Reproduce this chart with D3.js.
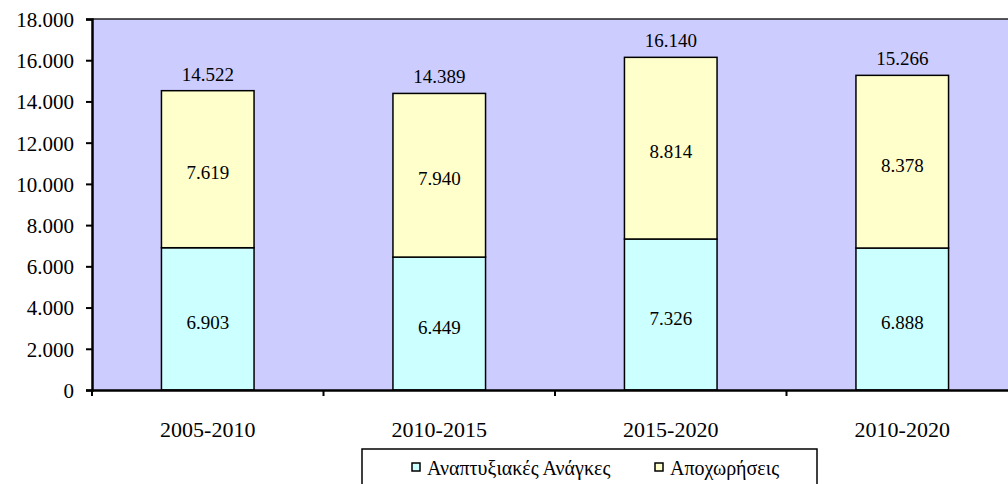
<!DOCTYPE html>
<html>
<head>
<meta charset="utf-8">
<script src="https://cdn.jsdelivr.net/npm/d3@7"></script>
<style>
    body { margin: 0; background: #fff; }
    svg { display: block; }
    svg text { font-family: "Liberation Serif", "Times New Roman", "DejaVu Serif", serif; fill: #000; }
</style>
</head>
<body>
<div id="chart"></div>
<script>
// Data
const periods = ["2005-2010", "2010-2015", "2015-2020", "2010-2020"];
const devNeeds = [6903, 6449, 7326, 6888];
const retirements = [7619, 7940, 8814, 8378];
const seriesNames = ["Αναπτυξιακές Ανάγκες", "Αποχωρήσεις"];
const yTicks = [0, 2000, 4000, 6000, 8000, 10000, 12000, 14000, 16000, 18000];

// Size data
const W = 1008, H = 484;
const m = { top: 19, right: -10, bottom: 94, left: 92 };
const colors = ["#CCFFFF", "#FFFFCC"];
const fmt = d3.formatLocale({ decimal: ",", thousands: ".", grouping: [3] }).format(",");

const svg = d3.select("#chart")
    .append("svg")
    .attr("width", W)
    .attr("height", H);

// Scales
const x = d3.scaleBand().domain(periods).range([m.left, W - m.right]);
const y = d3.scaleLinear().domain([0, 18000]).range([H - m.bottom, m.top]);
const bw = x.bandwidth() * 0.4;

// Plot background
svg.append("rect")
    .attr("x", m.left)
    .attr("y", m.top)
    .attr("width", W - m.left)
    .attr("height", y(0) - m.top)
    .attr("fill", "#CCCCFF");
// Top border
svg.append("line")
    .attr("x1", m.left).attr("x2", W)
    .attr("y1", m.top).attr("y2", m.top)
    .attr("stroke", "#222").attr("stroke-width", 1.5);

// Stack
const rows = periods.map((p, i) => ({ p, a: devNeeds[i], b: retirements[i] }));
const stack = d3.stack().keys(["a", "b"])(rows);

const layer = svg.selectAll("g.layer")
    .data(stack)
    .join("g")
    .attr("class", "layer")
    .attr("fill", (d, i) => colors[i]);

layer.selectAll("rect")
    .data(d => d)
    .join("rect")
    .attr("x", d => x(d.data.p) + (x.bandwidth() - bw) / 2)
    .attr("y", d => y(d[1]))
    .attr("width", bw)
    .attr("height", d => y(d[0]) - y(d[1]))
    .attr("stroke", "#000")
    .attr("stroke-width", 1.5);

// Segment labels
layer.selectAll("text")
    .data(d => d)
    .join("text")
    .attr("x", d => x(d.data.p) + x.bandwidth() / 2)
    .attr("y", d => (y(d[0]) + y(d[1])) / 2 + 10)
    .attr("text-anchor", "middle")
    .attr("font-size", 19)
    .text(d => fmt(d[1] - d[0]));

// Total labels
svg.selectAll("text.total")
    .data(rows)
    .join("text")
    .attr("class", "total")
    .attr("x", d => x(d.p) + x.bandwidth() / 2)
    .attr("y", d => y(d.a + d.b) - 10)
    .attr("text-anchor", "middle")
    .attr("font-size", 19)
    .text(d => fmt(d.a + d.b));

// Y-axis
const yAxis = svg.append("g")
    .attr("transform", `translate(${m.left}, 0)`)
    .call(d3.axisLeft(y).tickValues(yTicks).tickFormat(fmt).tickSize(6).tickPadding(12));
yAxis.select(".domain").attr("stroke-width", 2.5);
yAxis.selectAll(".tick line").attr("stroke-width", 2);
yAxis.selectAll("text").attr("font-size", 21).attr("dy", "0.35em");

// X-axis
const xAxis = svg.append("g")
    .attr("transform", `translate(0, ${y(0)})`)
    .call(d3.axisBottom(x).tickSize(0));
xAxis.select(".domain").attr("stroke-width", 2.5);
xAxis.selectAll("text").attr("font-size", 22).attr("y", 47).attr("dy", null);
// Tick marks on band boundaries
xAxis.selectAll("line.bound")
    .data(periods)
    .join("line")
    .attr("class", "bound")
    .attr("x1", d => x(d)).attr("x2", d => x(d))
    .attr("y1", 0).attr("y2", 6)
    .attr("stroke", "#000").attr("stroke-width", 2);

// Legend
const lg = svg.append("g").attr("transform", "translate(362, 449)");
lg.append("rect")
    .attr("width", 455).attr("height", 45)
    .attr("fill", "#fff").attr("stroke", "#000").attr("stroke-width", 1.5);
const li = lg.selectAll("g.item")
    .data(seriesNames)
    .join("g")
    .attr("class", "item")
    .attr("transform", (d, i) => `translate(${i === 0 ? 50 : 293}, 0)`);
li.append("rect")
    .attr("y", 14).attr("width", 8).attr("height", 8)
    .attr("fill", (d, i) => colors[i])
    .attr("stroke", "#000").attr("stroke-width", 1.5);
li.append("text")
    .attr("x", 15).attr("y", 26)
    .attr("font-size", 20)
    .text(d => d);
</script>
</body>
</html>
